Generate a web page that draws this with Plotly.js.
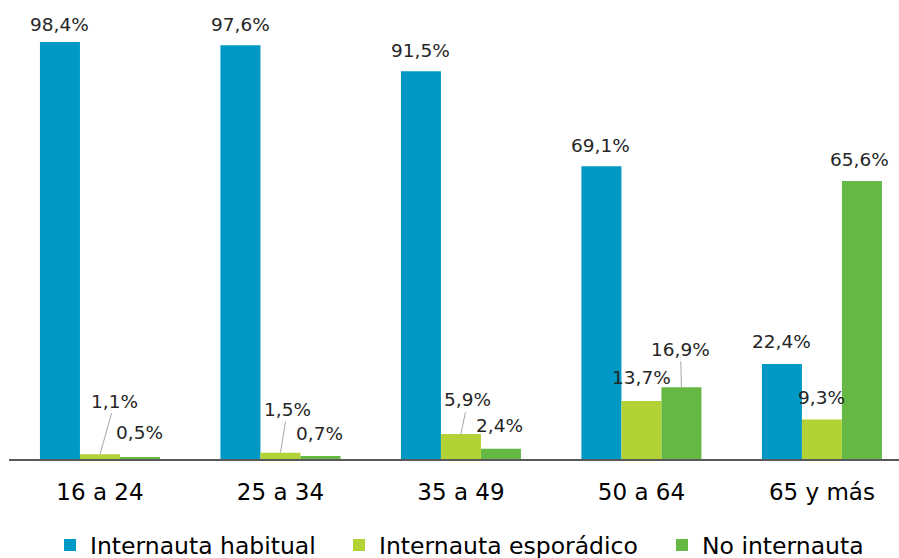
<!DOCTYPE html>
<html>
<head>
<meta charset="utf-8">
<script src="https://cdn.plot.ly/plotly-3.0.1.min.js"></script>
<style>html,body{margin:0;padding:0;background:#fff;}#chart{width:899px;height:558px;}</style>
</head>
<body>
<div id="chart"></div>
<script>
// ---- data ----
const categories = ['16 a 24', '25 a 34', '35 a 49', '50 a 64', '65 y más'];
const seriesNames = ['Internauta habitual', 'Internauta esporádico', 'No internauta'];
const habitual = [98.4, 97.6, 91.5, 69.1, 22.4];
const esporadico = [1.1, 1.5, 5.9, 13.7, 9.3];
const noInternauta = [0.5, 0.7, 2.4, 16.9, 65.6];

// ---- style ----
const colors = ['#0099C6', '#B2D235', '#66B845'];
const bargap = 0.335;
const labelFont = {family: '"DejaVu Sans", sans-serif', size: 18.5, color: '#262626'};
// label offsets in pixels from bar top to label centre; third flag = leader line
const labelStyle = [
  [[0,-17],[0,-21],[0,-21],[-1,-21],[0,-22.5]],
  [[15,-53,1],[7,-43,1],[7,-34,1],[0,-23],[0,-22]],
  [[0,-24],[-1,-23],[-1.5,-23],[-1,-38,1],[-2,-21.5]]
];
const legendNames = ['legend', 'legend2', 'legend3'];
const legendX = [50, 339, 662];   // legend box left edges, px
const legendFont = {family: '"DejaVu Sans", sans-serif', size: 23.5, color: '#000'};

const allSeries = [habitual, esporadico, noInternauta];
const fmt = v => v.toFixed(1).replace('.', ',') + '%';

const traces = allSeries.map((vals, k) => ({
  type: 'bar',
  name: seriesNames[k],
  x: categories,
  y: vals,
  legend: legendNames[k],
  marker: {color: colors[k], line: {width: 0}},
  hoverinfo: 'skip'
}));

const barW = (1 - bargap) / allSeries.length;
const annotations = [];
allSeries.forEach((vals, k) => {
  vals.forEach((v, i) => {
    const st = labelStyle[k][i];
    const a = {
      x: i + (k - (allSeries.length - 1) / 2) * barW,
      y: v, xref: 'x', yref: 'y',
      text: fmt(v), font: labelFont,
      xanchor: 'center', yanchor: 'middle'
    };
    if (st[2]) {
      Object.assign(a, {showarrow: true, ax: st[0], ay: st[1], arrowhead: 0,
        arrowwidth: 1, arrowcolor: '#A6A6A6', standoff: 0, startstandoff: 0});
    } else {
      Object.assign(a, {showarrow: false, xshift: st[0], yshift: -st[1]});
    }
    annotations.push(a);
  });
});

const layout = {
  width: 899, height: 558,
  margin: {l: 9, r: 0, t: 0, b: 99, pad: 0},
  paper_bgcolor: '#ffffff', plot_bgcolor: '#ffffff',
  barmode: 'group', bargap: bargap, bargroupgap: 0,
  font: {family: '"DejaVu Sans", sans-serif', color: '#000'},
  xaxis: {
    type: 'category', range: [-0.504, 4.427],
    showline: true, linecolor: '#595959', linewidth: 1.5,
    ticks: '', showgrid: false, zeroline: false, ticklabelstandoff: 12,
    tickfont: {family: '"DejaVu Sans", sans-serif', size: 23, color: '#000'},
    fixedrange: true
  },
  yaxis: {range: [0, 108.3], visible: false, showgrid: false, zeroline: false, fixedrange: true},
  showlegend: true,
  annotations: annotations
};
legendNames.forEach((ln, k) => {
  layout[ln] = {
    orientation: 'h', xref: 'container', x: legendX[k] / 899, xanchor: 'left',
    yref: 'container', y: 0.023, yanchor: 'middle',
    font: legendFont, bgcolor: 'rgba(0,0,0,0)', borderwidth: 0
  };
});

Plotly.newPlot('chart', traces, layout, {displayModeBar: false, staticPlot: true});
</script>
</body>
</html>
